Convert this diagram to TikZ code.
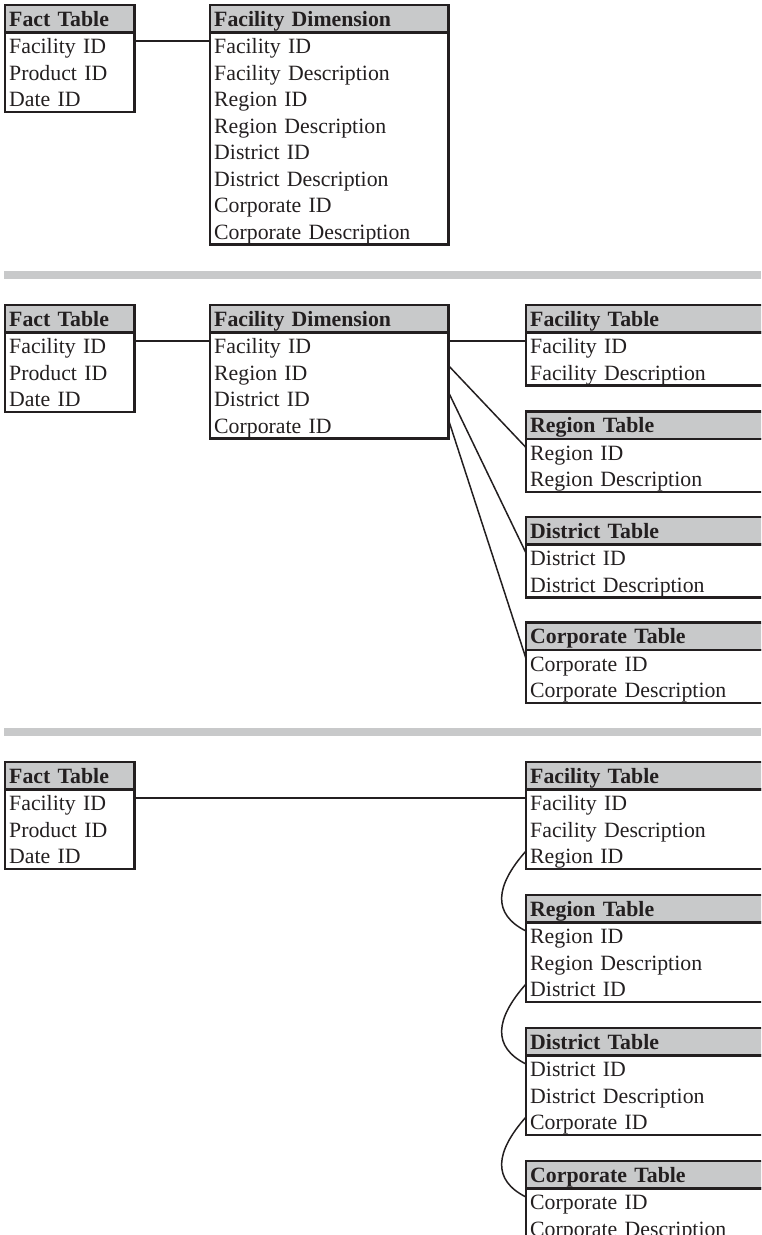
\documentclass[tikz,border=0pt]{standalone}
\usepackage{fontspec}
\setmainfont{Liberation Serif}
\usetikzlibrary{calc}
\definecolor{hdrgray}{RGB}{200,201,202}
\definecolor{ink}{RGB}{35,31,32}

% \dbtable{name}{x}{top}{width}{title}{number of rows}{row texts}
\newcommand{\dbtable}[7]{%
  \node[hdrcell, minimum width=#4pt, text width={#4pt-8pt}, anchor=north west] (#1-h) at (#2,#3) {#5};
  \foreach \r [count=\i] in {#7} {
    \node[rowcell, minimum width=#4pt, text width={#4pt-8pt}, anchor=north west]
      (#1-\i) at (#2,{#3+27+(\i-1)*26.5}) {\r};
    \coordinate (#1-\i-L) at ([yshift=-9pt]#1-\i.north west);
    \coordinate (#1-\i-R) at ([yshift=-9pt]#1-\i.north east);
  }
  \draw[frame] (#1-h.south west) rectangle (#1-#6.south east);
  \draw[frame] (#1-h.north west) rectangle (#1-h.south east);
}

\begin{document}
\begin{tikzpicture}[x=1pt, y=-1pt,
  every node/.style={font=\fontsize{21.8}{26}\selectfont, text=ink},
  hdrcell/.style={rectangle, fill=hdrgray, inner xsep=4pt, inner ysep=0pt,
    text height=21pt, text depth=6pt, align=left, font=\fontsize{21.8}{26}\selectfont\bfseries},
  rowcell/.style={rectangle, inner xsep=4pt, inner ysep=0pt,
    text height=21.5pt, text depth=5pt, align=left},
  frame/.style={draw=ink, line width=2.2pt},
  link/.style={draw=ink, line width=1.5pt},
  sep/.style={fill=hdrgray}]
\useasboundingbox (0,0) rectangle (761,1235);
\clip (0,0) rectangle (761,1235);

% ---- flat facility dimension
\dbtable{fA}{5}{5}{129}{Fact Table}{3}{Facility ID,Product ID,Date ID}
\dbtable{dA}{210}{5}{238}{Facility Dimension}{8}{Facility ID,Facility Description,Region ID,Region Description,District ID,District Description,Corporate ID,Corporate Description}
\draw[link] (fA-1-R) -- (dA-1-L);

\fill[sep] (4,271) rectangle (761,279);

% ---- dimension with outrigger tables
\dbtable{fB}{5}{305}{129}{Fact Table}{3}{Facility ID,Product ID,Date ID}
\dbtable{dB}{210}{305}{238}{Facility Dimension}{4}{Facility ID,Region ID,District ID,Corporate ID}
\dbtable{tB1}{526}{305}{300}{Facility Table}{2}{Facility ID,Facility Description}
\dbtable{tB2}{526}{411.5}{300}{Region Table}{2}{Region ID,Region Description}
\dbtable{tB3}{526}{517}{300}{District Table}{2}{District ID,District Description}
\dbtable{tB4}{526}{622.5}{300}{Corporate Table}{2}{Corporate ID,Corporate Description}
\draw[link] (fB-1-R) -- (dB-1-L);
\draw[link] (dB-1-R) -- (tB1-1-L);
\draw[link] ([yshift=2pt]dB-2-R) -- (tB2-1-L);
\draw[link] ([yshift=2pt]dB-3-R) -- (tB3-1-L);
\draw[link] ([yshift=1pt]dB-4-R) -- (tB4-1-L);

\fill[sep] (4,728) rectangle (761,736);

% ---- snowflaked chain
\dbtable{fC}{5}{762}{129}{Fact Table}{3}{Facility ID,Product ID,Date ID}
\dbtable{tC1}{526}{762}{300}{Facility Table}{3}{Facility ID,Facility Description,Region ID}
\dbtable{tC2}{526}{895}{300}{Region Table}{3}{Region ID,Region Description,District ID}
\dbtable{tC3}{526}{1028}{300}{District Table}{3}{District ID,District Description,Corporate ID}
\dbtable{tC4}{526}{1161}{300}{Corporate Table}{2}{Corporate ID,Corporate Description}
\draw[link] (fC-1-R) -- (tC1-1-L);
\draw[link] (tC1-3-L) .. controls +(-31,35) and +(-34,-17) .. (tC2-1-L);
\draw[link] (tC2-3-L) .. controls +(-31,35) and +(-34,-17) .. (tC3-1-L);
\draw[link] (tC3-3-L) .. controls +(-31,35) and +(-34,-17) .. (tC4-1-L);
\end{tikzpicture}
\end{document}
